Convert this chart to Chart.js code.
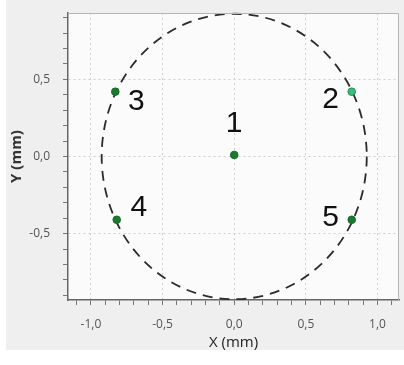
<!DOCTYPE html>
<html>
<head>
<meta charset="utf-8">
<script src="https://cdn.jsdelivr.net/npm/chart.js@4.4.0/dist/chart.umd.min.js"></script>
<style>
  html, body { margin: 0; padding: 0; background: #fff; }
  #wrap { width: 404px; height: 365px; }
</style>
</head>
<body>
<div id="wrap"><canvas id="chart1" width="404" height="365"></canvas></div>
<script>
// measured points (mm)
const pointLabels = ['1', '2', '3', '4', '5'];
const xValues = [0.0, 0.82, -0.83, -0.82, 0.82];
const yValues = [0.01, 0.42, 0.42, -0.41, -0.41];
const circleRadius = 0.925;

const xTicks = [-1.1, -1.0, -0.9, -0.8, -0.7, -0.6, -0.5, -0.4, -0.3, -0.2, -0.1, 0.0,
                0.1, 0.2, 0.3, 0.4, 0.5, 0.6, 0.7, 0.8, 0.9, 1.0, 1.1];
const yTicks = [-0.9, -0.8, -0.7, -0.6, -0.5, -0.4, -0.3, -0.2, -0.1, 0.0,
                0.1, 0.2, 0.3, 0.4, 0.5, 0.6, 0.7, 0.8, 0.9];
const majorTicks = [-1.0, -0.5, 0.0, 0.5, 1.0];

const isMajor = v => majorTicks.some(m => Math.abs(m - v) < 1e-6);
const fmt = v => v.toFixed(1).replace('.', ',');

// label offsets (px) for the point numbers
const labelOffsets = [[0, -31], [-21, 8], [21, 10], [22, -12], [-21, -2]];

const bgPlugin = {
    id: 'bg',
    beforeDraw(chart) {
        const ctx = chart.ctx;
        const a = chart.chartArea;
        ctx.save();
        ctx.fillStyle = '#efefef';
        ctx.fillRect(6, 0, 398, 350);
        ctx.fillStyle = '#fbfbfb';
        ctx.fillRect(a.left, a.top, a.right - a.left, a.bottom - a.top);
        ctx.restore();
    },
    afterDraw(chart) {
        const ctx = chart.ctx;
        const a = chart.chartArea;
        ctx.save();
        ctx.strokeStyle = '#b5b5b5';
        ctx.lineWidth = 1;
        ctx.beginPath();
        ctx.moveTo(a.left, a.top + 0.5);
        ctx.lineTo(a.right - 0.5, a.top + 0.5);
        ctx.lineTo(a.right - 0.5, a.bottom);
        ctx.stroke();
        ctx.restore();
    }
};

const circlePlugin = {
    id: 'circle',
    beforeDatasetsDraw(chart) {
        const ctx = chart.ctx;
        const xs = chart.scales.x, ys = chart.scales.y;
        const cx = xs.getPixelForValue(0), cy = ys.getPixelForValue(0);
        const rx = xs.getPixelForValue(circleRadius) - cx;
        const ry = cy - ys.getPixelForValue(circleRadius);
        ctx.save();
        ctx.strokeStyle = '#2b2b2b';
        ctx.lineWidth = 1.8;
        ctx.setLineDash([10, 7]);
        ctx.beginPath();
        ctx.ellipse(cx, cy, rx, ry, 0, 0, Math.PI * 2);
        ctx.stroke();
        ctx.restore();
    }
};

const numberPlugin = {
    id: 'numbers',
    afterDatasetsDraw(chart) {
        const ctx = chart.ctx;
        const meta = chart.getDatasetMeta(0);
        ctx.save();
        ctx.fillStyle = '#111';
        ctx.font = '30px "Liberation Sans", Arial, sans-serif';
        ctx.textAlign = 'center';
        ctx.textBaseline = 'middle';
        meta.data.forEach((pt, i) => {
            const off = labelOffsets[i];
            ctx.fillText(pointLabels[i], pt.x + off[0], pt.y + off[1]);
        });
        ctx.restore();
    }
};

const ctx = document.getElementById('chart1').getContext('2d');
const chart1 = new Chart(ctx, {
    type: 'scatter',
    data: {
        datasets: [{
            label: 'Points',
            data: xValues.map((x, i) => ({ x: x, y: yValues[i] })),
            backgroundColor: ['#1c7a30', '#3dba7c', '#1c7a30', '#1c7a30', '#1c7a30'],
            borderColor: ['#176a28', '#1f8a55', '#176a28', '#176a28', '#176a28'],
            borderWidth: 1,
            pointRadius: 3.8
        }]
    },
    options: {
        responsive: false,
        animation: false,
        layout: { padding: { top: 13, right: 3, left: 0, bottom: 12 } },
        plugins: {
            legend: { display: false },
            tooltip: { enabled: false }
        },
        scales: {
            x: {
                type: 'linear',
                min: -1.16,
                max: 1.15,
                afterFit: scale => {
                    scale.height = 53;
                    scale.paddingLeft = 0;
                    scale.paddingRight = 0;
                },
                afterBuildTicks: scale => { scale.ticks = xTicks.map(v => ({ value: v })); },
                ticks: {
                    autoSkip: false,
                    maxRotation: 0,
                    color: '#555',
                    padding: 12,
                    font: { family: '"Open Sans", sans-serif', size: 12 },
                    callback: v => isMajor(v) ? fmt(v) : ''
                },
                grid: {
                    color: c => (c.tick && isMajor(c.tick.value)) ? '#cfcfcf' : 'rgba(0,0,0,0)',
                    tickColor: '#777',
                    tickLength: 5,
                    drawTicks: true
                },
                border: { color: '#666', width: 1.5, dash: [2, 3] },
                title: {
                    display: true,
                    text: 'X (mm)',
                    color: '#222',
                    padding: { top: 0, bottom: 1 },
                    font: { family: '"Open Sans", sans-serif', size: 15 }
                }
            },
            y: {
                type: 'linear',
                min: -0.93,
                max: 0.93,
                afterFit: scale => {
                    scale.width = 68;
                    scale.paddingTop = 0;
                    scale.paddingBottom = 0;
                },
                afterBuildTicks: scale => { scale.ticks = yTicks.map(v => ({ value: v })); },
                ticks: {
                    autoSkip: false,
                    color: '#555',
                    padding: 13,
                    font: { family: '"Open Sans", sans-serif', size: 12 },
                    callback: v => isMajor(v) ? fmt(v) : ''
                },
                grid: {
                    color: c => (c.tick && isMajor(c.tick.value)) ? '#cfcfcf' : 'rgba(0,0,0,0)',
                    tickColor: '#777',
                    tickLength: 5
                },
                border: { color: '#666', width: 1.5, dash: [2, 3] },
                title: {
                    display: true,
                    text: 'Y (mm)',
                    color: '#333',
                    padding: { top: 8, bottom: 0 },
                    font: { family: '"Open Sans", sans-serif', size: 15, weight: 'bold' }
                }
            }
        }
    },
    plugins: [bgPlugin, circlePlugin, numberPlugin]
});
</script>
</body>
</html>
